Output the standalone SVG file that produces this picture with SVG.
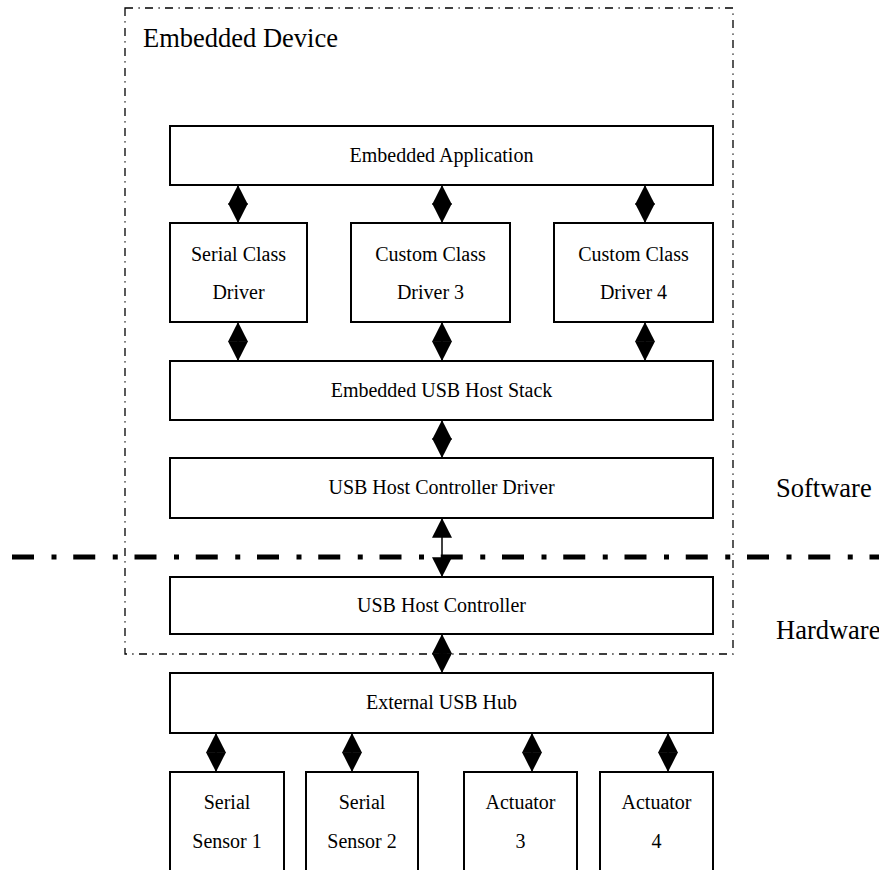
<svg xmlns="http://www.w3.org/2000/svg" width="879" height="870" viewBox="0 0 879 870">
<style>
  .box { fill: #ffffff; stroke: #000000; stroke-width: 2; }
  .lbl { font-family: "Liberation Serif", "Times New Roman", serif; font-size: 20px; fill: #000000; text-anchor: middle; }
  .big { font-family: "Liberation Serif", "Times New Roman", serif; font-size: 26.5px; fill: #000000; }
  .conn { stroke: #000000; stroke-width: 1.5; fill: none; marker-start: url(#head); marker-end: url(#head); }
  .frame { fill: none; stroke: #000000; stroke-width: 1.3; stroke-dasharray: 8 5.5 1.2 5.3; }
  .divider { stroke: #000000; stroke-width: 5; stroke-dasharray: 22 17.5 5 16.75; fill: none; }
</style>
<defs>
  <marker id="head" viewBox="0 0 19.8 20" refX="19.8" refY="10" markerWidth="19.8" markerHeight="20" markerUnits="userSpaceOnUse" orient="auto-start-reverse">
    <path d="M0,0 L19.8,10 L0,20 Z" fill="#000000"/>
  </marker>
</defs>
<rect width="879" height="870" fill="#ffffff"/>

<g id="embedded-device">
  <rect class="frame" x="125" y="8" width="608" height="646"/>
  <text class="big" x="143" y="47">Embedded Device</text>
</g>

<g id="embedded-application">
  <rect class="box" x="170" y="126" width="543" height="59"/>
  <text class="lbl" x="441.5" y="162">Embedded Application</text>
</g>
<g id="serial-class-driver">
  <rect class="box" x="170" y="223" width="137" height="99"/>
  <text class="lbl" x="238.5" y="261">Serial Class</text>
  <text class="lbl" x="238.5" y="299">Driver</text>
</g>
<g id="custom-class-driver-3">
  <rect class="box" x="351" y="223" width="159" height="99"/>
  <text class="lbl" x="430.5" y="261">Custom Class</text>
  <text class="lbl" x="430.5" y="299">Driver 3</text>
</g>
<g id="custom-class-driver-4">
  <rect class="box" x="554" y="223" width="159" height="99"/>
  <text class="lbl" x="633.5" y="261">Custom Class</text>
  <text class="lbl" x="633.5" y="299">Driver 4</text>
</g>
<g id="embedded-usb-host-stack">
  <rect class="box" x="170" y="361" width="543" height="59"/>
  <text class="lbl" x="441.5" y="397">Embedded USB Host Stack</text>
</g>
<g id="usb-host-controller-driver">
  <rect class="box" x="170" y="458" width="543" height="60"/>
  <text class="lbl" x="441.5" y="494">USB Host Controller Driver</text>
</g>
<g id="usb-host-controller">
  <rect class="box" x="170" y="577" width="543" height="57"/>
  <text class="lbl" x="441.5" y="612">USB Host Controller</text>
</g>
<g id="external-usb-hub">
  <rect class="box" x="170" y="673" width="543" height="60"/>
  <text class="lbl" x="441.5" y="709">External USB Hub</text>
</g>
<g id="serial-sensor-1">
  <rect class="box" x="170" y="772" width="114" height="100"/>
  <text class="lbl" x="227" y="809">Serial</text>
  <text class="lbl" x="227" y="848">Sensor 1</text>
</g>
<g id="serial-sensor-2">
  <rect class="box" x="306" y="772" width="112" height="100"/>
  <text class="lbl" x="362" y="809">Serial</text>
  <text class="lbl" x="362" y="848">Sensor 2</text>
</g>
<g id="actuator-3">
  <rect class="box" x="464" y="772" width="113" height="100"/>
  <text class="lbl" x="520.5" y="809">Actuator</text>
  <text class="lbl" x="520.5" y="848">3</text>
</g>
<g id="actuator-4">
  <rect class="box" x="600" y="772" width="113" height="100"/>
  <text class="lbl" x="656.5" y="809">Actuator</text>
  <text class="lbl" x="656.5" y="848">4</text>
</g>

<g id="layer-divider">
  <line class="divider" x1="12" y1="557" x2="879" y2="557"/>
  <text class="big" x="776" y="497">Software</text>
  <text class="big" x="776" y="639">Hardware</text>
</g>

<g id="connectors">
  <line class="conn" x1="238" y1="185" x2="238" y2="223"/>
  <line class="conn" x1="442" y1="185" x2="442" y2="223"/>
  <line class="conn" x1="645" y1="185" x2="645" y2="223"/>
  <line class="conn" x1="238" y1="322" x2="238" y2="361"/>
  <line class="conn" x1="442" y1="322" x2="442" y2="361"/>
  <line class="conn" x1="645" y1="322" x2="645" y2="361"/>
  <line class="conn" x1="442" y1="420" x2="442" y2="458"/>
  <line class="conn" x1="442" y1="518" x2="442" y2="577"/>
  <line class="conn" x1="442" y1="634" x2="442" y2="673"/>
  <line class="conn" x1="216" y1="733" x2="216" y2="772"/>
  <line class="conn" x1="352" y1="733" x2="352" y2="772"/>
  <line class="conn" x1="532" y1="733" x2="532" y2="772"/>
  <line class="conn" x1="668" y1="733" x2="668" y2="772"/>
</g>
</svg>
